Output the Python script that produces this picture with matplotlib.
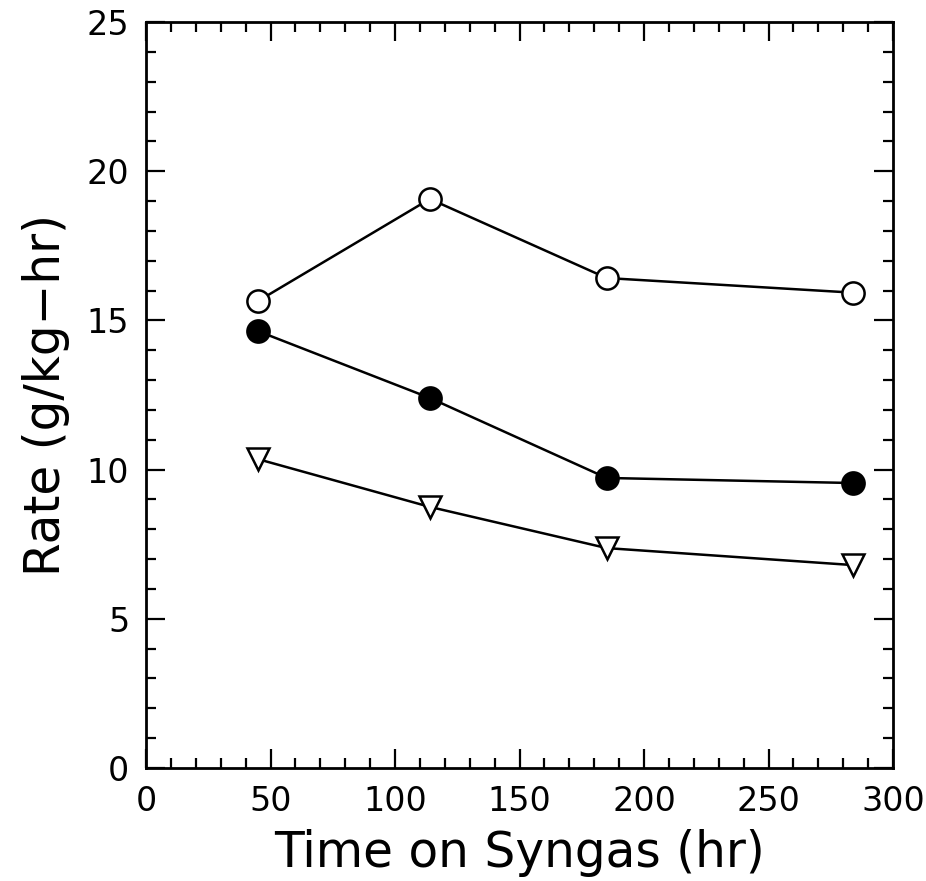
import matplotlib
matplotlib.use("Agg")
import matplotlib.pyplot as plt
from matplotlib.ticker import MultipleLocator

# values
time_hr = [45, 114, 185, 284]
rate_open = [15.65, 19.07, 16.42, 15.93]
rate_filled = [14.64, 12.40, 9.72, 9.55]
rate_tri = [10.35, 8.75, 7.37, 6.80]

x_ticks = [0, 50, 100, 150, 200, 250, 300]
y_ticks = [0, 5, 10, 15, 20, 25]

plt.rcParams['font.family'] = ['DejaVu Sans']

fig = plt.figure(figsize=(9.26, 8.81), dpi=100)
ax = fig.add_axes([146 / 926, 1 - 768 / 881, 747 / 926, 746 / 881])

ax.plot(time_hr, rate_open, color='black', lw=1.8, marker='o', ms=16,
        mfc='white', mec='black', mew=1.8, zorder=3)
ax.plot(time_hr, rate_filled, color='black', lw=1.8, marker='o', ms=16,
        mfc='black', mec='black', mew=1.8, zorder=3)
ax.plot(time_hr, rate_tri, color='black', lw=1.8, marker='v', ms=16,
        mfc='white', mec='black', mew=1.8, zorder=3)

ax.set_xlim(0, 300)
ax.set_ylim(0, 25)
ax.set_xticks(x_ticks)
ax.set_yticks(y_ticks)
ax.xaxis.set_minor_locator(MultipleLocator(10))
ax.yaxis.set_minor_locator(MultipleLocator(1))
ax.tick_params(which='both', direction='in', top=True, right=True, width=1.6)
ax.tick_params(which='major', length=14, labelsize=24, pad=12)
ax.tick_params(which='minor', length=7)
for s in ax.spines.values():
    s.set_linewidth(2)

ax.set_xlabel('Time on Syngas (hr)', fontsize=35, labelpad=8)
ax.set_ylabel('Rate (g/kg\u2212hr)', fontsize=35, labelpad=12)

fig.savefig('out.png', dpi=100)
